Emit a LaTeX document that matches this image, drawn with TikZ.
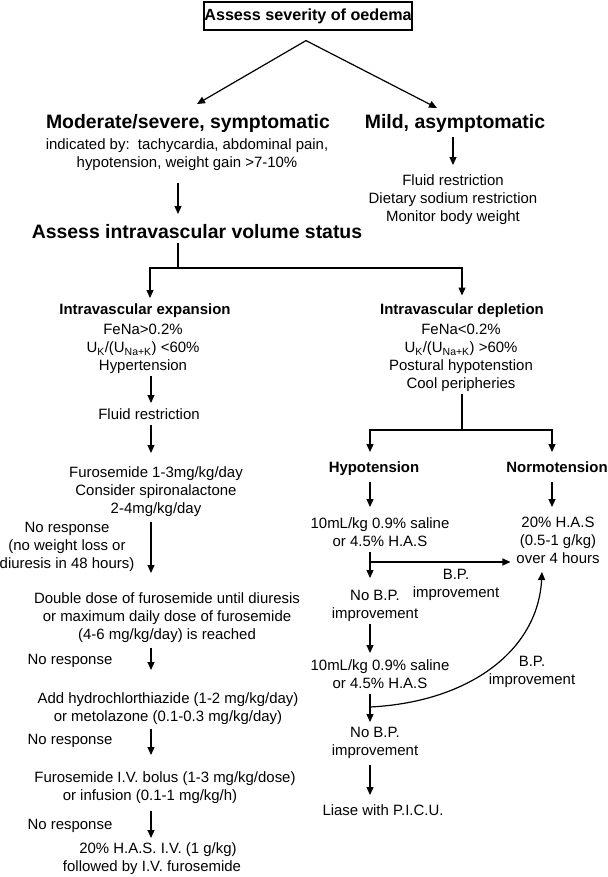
\documentclass[tikz,border=0pt]{standalone}
\usepackage{fontspec}
\setmainfont{Liberation Sans}
\usetikzlibrary{arrows.meta,calc}
\newcommand\varr[5]{\draw[arr,shorten <=#4bp,shorten >=#5bp] (#1.south -| #3) -- (#2.north -| #3);}
\begin{document}
\begin{tikzpicture}[x=1bp,y=-1bp,
  txt/.style={align=center,font=\fontsize{15}{18}\selectfont,inner sep=0pt,outer sep=0pt,anchor=north},
  big/.style={align=center,font=\fontsize{19.5}{23}\selectfont\bfseries,inner sep=0pt,outer sep=0pt,anchor=north},
  sub/.style={align=center,font=\fontsize{15}{18}\selectfont\bfseries,inner sep=0pt,outer sep=0pt,anchor=north},
  arr/.style={-{Triangle[length=8bp,width=7bp]},line width=1.2bp},
  ln/.style={line width=1.2bp}]
\useasboundingbox (0,0) rectangle (608,877);
% column coordinates
\coordinate (cL) at (151,0);
\coordinate (cT) at (178,0);
\coordinate (cM) at (453,0);
\coordinate (cH) at (370,0);
\coordinate (cN) at (552,0);
% top
\node[draw,line width=1.2bp,minimum width=208bp,minimum height=28bp,inner sep=0pt,
  font=\fontsize{16.2}{18}\selectfont\bfseries] (t) at (308,16) {Assess severity of oedema};
\node[big] (mod) at (188,114.8) {Moderate/severe, symptomatic};
\node[txt] (modsub) at (187,138.5) {indicated by:\ \ tachycardia, abdominal pain,\\hypotension, weight gain >7-10\%};
\node[big] (mild) at (455,114.8) {Mild, asymptomatic};
\node[txt] (mildsub) at (453,174.5) {Fluid restriction\\Dietary sodium restriction\\Monitor body weight};
\node[big] (assess) at (197,224.8) {Assess intravascular volume status};
\coordinate (apex) at ($(t.south)+(-2,10)$);
\draw[arr] (apex) -- ($(mod.north)+(9,-10.8)$);
\draw[arr] (apex) -- ($(mild.north)+(-18,-6.8)$);
\varr{modsub}{assess}{cT}{12.4}{10.8}
\varr{mild}{mildsub}{cM}{3.9}{9.5}
% split
\coordinate (split) at (178,268);
\coordinate (jL) at (150,268);
\coordinate (jR) at (462,268);
\draw[ln] ($(assess.south -| split)+(0,4)$) -- (split);
% left column
\node[sub] (exp) at (145,303.5) {Intravascular expansion};
\node[txt] (expsub) at (143,324.5) {FeNa>0.2\%\\U\textsubscript{K}/(U\textsubscript{Na+K}) <60\%\\Hypertension};
\node[txt] (fr) at (149,408.5) {Fluid restriction};
\node[txt] (furo) at (156,466.5) {Furosemide 1-3mg/kg/day\\Consider spironalactone\\2-4mg/kg/day};
\node[txt] (nr1) at (67,522.5) {No response\\(no weight loss or\\diuresis in 48 hours)};
\node[txt] (dbl) at (167,592.5) {Double dose of furosemide until diuresis\\or maximum daily dose of furosemide\\(4-6 mg/kg/day) is reached};
\node[txt] (nr2) at (70,654.5) {No response};
\node[txt] (add) at (168,692.5) {Add hydrochlorthiazide (1-2 mg/kg/day)\\or metolazone (0.1-0.3 mg/kg/day)};
\node[txt] (nr3) at (70,734.5) {No response};
\node[txt] (ivb) at (165,771.5) {Furosemide I.V. bolus (1-3 mg/kg/dose)\\or infusion (0.1-1 mg/kg/h)\hspace*{30bp}};
\node[txt] (nr4) at (70,819.5) {No response};
\node[txt] (has) at (152,842.5) {\hspace*{12bp}20\% H.A.S. I.V. (1 g/kg)\\followed by I.V. furosemide};
\draw[arr,shorten >=5.5bp] (split) -- (jL) -- (exp.north -| jL);
\varr{expsub}{fr}{cL}{2.4}{5.5}
\varr{fr}{furo}{cL}{5.6}{13.5}
\varr{furo}{dbl}{cL}{5.4}{19.5}
\varr{dbl}{add}{cL}{5.4}{22.5}
\varr{add}{ivb}{cL}{4.4}{16.5}
\varr{ivb}{has}{cL}{7.4}{4.5}
% right column
\node[sub] (dep) at (462,303.5) {Intravascular depletion};
\node[txt] (depsub) at (461,324.5) {FeNa<0.2\%\\U\textsubscript{K}/(U\textsubscript{Na+K}) >60\%\\Postural hypotenstion\\Cool peripheries};
\draw[arr,shorten >=8bp] (split) -- (jR) -- (dep.north -| jR);
\coordinate (split2) at (462,430);
\coordinate (jH) at (370,430);
\coordinate (jN) at (552,430);
\draw[ln] ($(depsub.south -| split2)+(0,2.4)$) -- (split2);
\node[sub] (hypo) at (374,461.5) {Hypotension};
\node[sub] (normo) at (557,461.5) {Normotension};
\draw[arr,shorten >=9.5bp] (split2) -- (jH) -- (hypo.north -| jH);
\draw[arr,shorten >=9.5bp] (split2) -- (jN) -- (normo.north -| jN);
\node[txt] (sal1) at (380,517.5) {10mL/kg 0.9\% saline\\or 4.5\% H.A.S};
\node[txt] (has20) at (558,517.5) {20\% H.A.S\\(0.5-1 g/kg)\\over 4 hours};
\varr{hypo}{sal1}{cH}{6.4}{10.5}
\varr{normo}{has20}{cN}{9.6}{10.5}
\node[txt] (bp1) at (456,569.5) {B.P.\\improvement};
\node[txt] (nobp1) at (375,590.5) {No B.P.\\improvement};
\varr{sal1}{nobp1}{cH}{5.6}{12.5}
\coordinate (b1) at (370,562);
\draw[arr,shorten >=6bp] (b1) -- (has20.west |- b1);
\node[txt] (sal2) at (380,659.5) {10mL/kg 0.9\% saline\\or 4.5\% H.A.S};
\node[txt] (bp2) at (532,656.5) {B.P.\\improvement};
\varr{nobp1}{sal2}{cH}{2.4}{6.5}
\node[txt] (nobp2) at (375,727.5) {No B.P.\\improvement};
\varr{sal2}{nobp2}{cH}{5.6}{5.5}
\coordinate (b2) at (370,707);
\draw[arr] (b2) .. controls (470,702) and (538,650) .. ($(has20.south)+(-16,8)$);
\node[txt] (picu) at (383,804.5) {Liase with P.I.C.U.};
\varr{nobp2}{picu}{cH}{6.4}{9.5}
\end{tikzpicture}
\end{document}
